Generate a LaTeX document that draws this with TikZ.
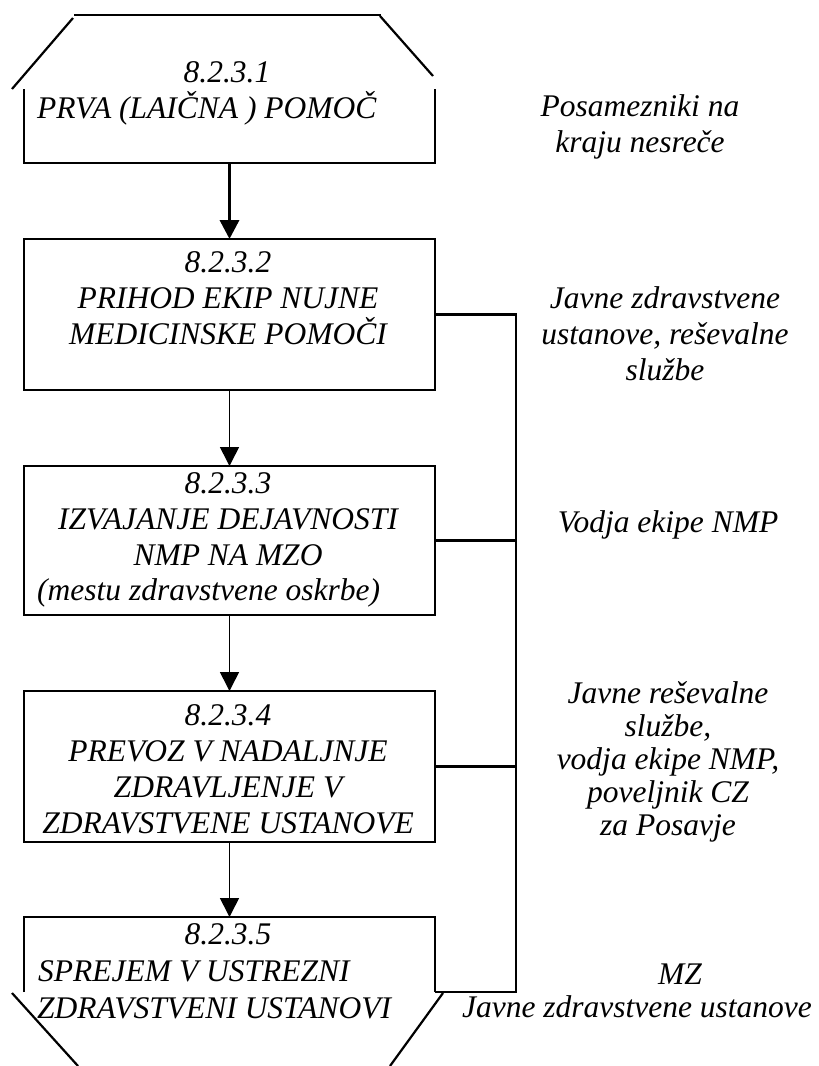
\documentclass[tikz,border=0pt]{standalone}
\usepackage{fontspec}
\setmainfont{Liberation Serif}
\usepackage{tikz}
\usetikzlibrary{arrows.meta}
\def\sirina{819}
\def\visina{1066}

\begin{document}
\begin{tikzpicture}[x=1pt, y=-1pt,
	okvir/.style={inner sep=0pt, outer sep=0pt, minimum width=411pt},
	crta/.style={line width=2.2pt},
	pusc/.style={-{Triangle[length=19pt,width=19pt]}, line width=1.6pt},
	besedilo/.style={font=\itshape\fontsize{31.5}{36}\selectfont, inner sep=0pt, anchor=base, align=center}]
	\useasboundingbox (0,0) rectangle (\sirina,\visina);
	%\draw[step=50, line width=0.1mm, black!20!white] (0,0) grid (\sirina,\visina);
	% okvirji
	\node[okvir, minimum height=74pt] (b1) at (229.5,126) {};
	\node[okvir, draw, crta, minimum height=151pt] (b2) at (229.5,314.5) {};
	\node[okvir, draw, crta, minimum height=149pt] (b3) at (229.5,540.5) {};
	\node[okvir, draw, crta, minimum height=151pt] (b4) at (229.5,766.5) {};
	\node[okvir, minimum height=75pt] (b5) at (229.5,954.5) {};
	\draw[crta] (b1.north west) -- (b1.south west) -- (b1.south east) -- (b1.north east);
	\draw[crta] (b5.south west) -- (b5.north west) -- (b5.north east) -- (b5.south east);
	% streha in dno
	\draw[crta] (74,15) -- (381,15);
	\draw[crta] (73,18) -- (12,89);
	\draw[crta] (380,16) -- (433,76);
	\draw[crta] (12,993) -- (78,1066);
	\draw[crta] (443,993) -- (390,1066);
	% puscice
	\draw[pusc, line width=3.5pt] (b1.south) -- (b2.north);
	\draw[pusc] (b2.south) -- (b3.north);
	\draw[pusc] (b3.south) -- (b4.north);
	\draw[pusc] (b4.south) -- (b5.north);
	% povezave desno
	\coordinate (bz) at (516,314.5);
	\coordinate (bs) at (516,992);
	\draw[crta] (b2.east) -- (bz) -- (bs) -- (b5.south east);
	\draw[crta] (b3.east) -- (b3.east -| bz);
	\draw[crta] (b4.east) -- (b4.east -| bz);
	% besedila v okvirjih (base = zadnja vrstica)
	\node[besedilo] (t1a) at (227,82) {8.2.3.1};
	\node[besedilo, anchor=base west] (t1b) at (37,118) {PRVA (LAIČNA ) POMOČ};
	\node[besedilo] (t2) at (228,344) {8.2.3.2\\PRIHOD EKIP NUJNE\\MEDICINSKE POMOČI};
	\node[besedilo] (t3) at (228,565) {8.2.3.3\\IZVAJANJE DEJAVNOSTI\\NMP NA MZO};
	\node[besedilo, anchor=base west] (t3b) at (37,600) {(mestu zdravstvene oskrbe)};
	\node[besedilo] (t4) at (228,833) {8.2.3.4\\PREVOZ V NADALJNJE\\ZDRAVLJENJE V\\ZDRAVSTVENE USTANOVE};
	\node[besedilo] (t5a) at (228,944) {8.2.3.5};
	\node[besedilo, anchor=base west] (t5b) at (38,981) {SPREJEM V USTREZNI};
	\node[besedilo, anchor=base west] (t5c) at (37,1018) {ZDRAVSTVENI USTANOVI};
	% izvajalci
	\node[besedilo] (i1) at (640,152) {Posamezniki na\\kraju nesreče};
	\node[besedilo] (i2) at (665,380) {Javne zdravstvene\\ustanove, reševalne\\službe};
	\node[besedilo] (i3) at (668,532) {Vodja ekipe NMP};
	\node[besedilo, font=\itshape\fontsize{31.5}{33}\selectfont] (i4) at (668,835) {Javne reševalne\\službe,\\vodja ekipe NMP,\\poveljnik CZ\\za Posavje};
	\node[besedilo] (i5a) at (680,984) {MZ};
	\node[besedilo] (i5b) at (637,1017) {Javne zdravstvene ustanove};
\end{tikzpicture}
\end{document}
